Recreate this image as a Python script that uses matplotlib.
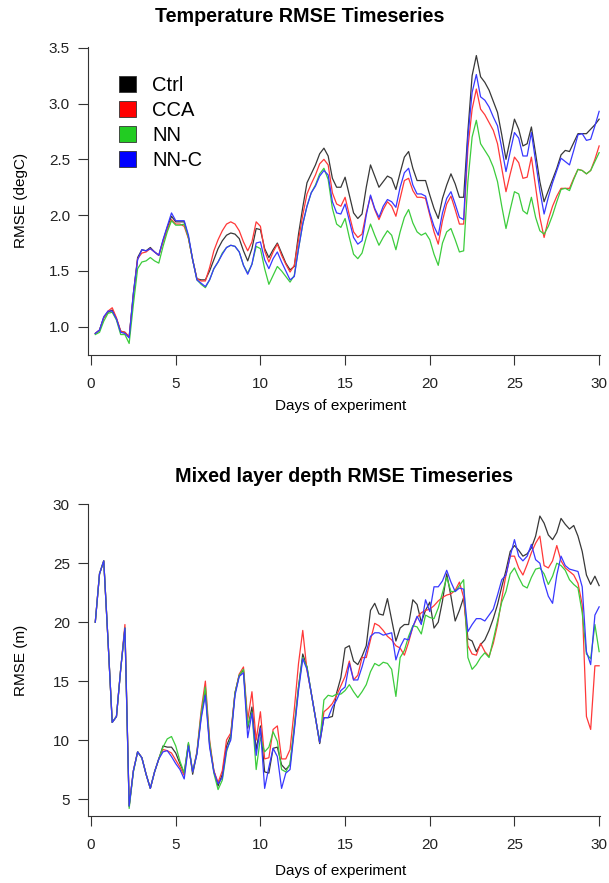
import numpy as np
import matplotlib
matplotlib.use('Agg')
from matplotlib import pyplot as plt
from matplotlib.patches import Patch

plt.rcParams['font.family'] = ['Liberation Sans', 'DejaVu Sans']

# 6-hourly sampling, days 0.25 .. 30
days = np.arange(1, 121) * 0.25

series_names = ['Ctrl', 'CCA', 'NN', 'NN-C']
series_colors = ['#383838', '#ff3838', '#3ccc3c', '#3838ff']

temp_ctrl = [0.94, 0.97, 1.08, 1.13, 1.15, 1.07, 0.96, 0.95,
             0.91, 1.30, 1.62, 1.69, 1.68, 1.71, 1.67, 1.64,
             1.77, 1.89, 1.99, 1.94, 1.94, 1.94, 1.80, 1.60,
             1.43, 1.42, 1.42, 1.50, 1.60, 1.70, 1.77, 1.82,
             1.84, 1.83, 1.79, 1.68, 1.59, 1.70, 1.88, 1.87,
             1.70, 1.62, 1.69, 1.75, 1.66, 1.57, 1.51, 1.54,
             1.83, 2.07, 2.29, 2.37, 2.45, 2.55, 2.60, 2.53,
             2.33, 2.25, 2.25, 2.34, 2.18, 2.02, 1.97, 2.01,
             2.25, 2.45, 2.35, 2.25, 2.30, 2.35, 2.33, 2.23,
             2.38, 2.52, 2.57, 2.42, 2.31, 2.31, 2.31, 2.18,
             2.06, 1.97, 2.15, 2.27, 2.37, 2.28, 2.16, 2.16,
             2.75, 3.25, 3.43, 3.24, 3.19, 3.12, 3.02, 2.92,
             2.72, 2.50, 2.68, 2.86, 2.77, 2.62, 2.64, 2.79,
             2.55, 2.30, 2.12, 2.22, 2.32, 2.42, 2.54, 2.58,
             2.57, 2.65, 2.73, 2.73, 2.73, 2.77, 2.81, 2.86]

temp_cca = [0.94, 0.97, 1.08, 1.14, 1.17, 1.08, 0.96, 0.95,
            0.91, 1.28, 1.61, 1.66, 1.67, 1.70, 1.67, 1.64,
            1.76, 1.87, 1.96, 1.92, 1.92, 1.90, 1.79, 1.60,
            1.43, 1.41, 1.41, 1.53, 1.68, 1.78, 1.86, 1.92,
            1.94, 1.92, 1.86, 1.76, 1.68, 1.76, 1.94, 1.90,
            1.68, 1.58, 1.67, 1.74, 1.64, 1.56, 1.49, 1.55,
            1.78, 2.00, 2.19, 2.28, 2.36, 2.46, 2.50, 2.45,
            2.20, 2.10, 2.08, 2.16, 2.00, 1.85, 1.80, 1.83,
            2.02, 2.17, 2.05, 1.96, 2.05, 2.12, 2.08, 1.99,
            2.15, 2.31, 2.33, 2.22, 2.16, 2.16, 2.15, 2.00,
            1.85, 1.74, 1.95, 2.10, 2.17, 2.05, 1.92, 1.92,
            2.60, 2.95, 3.13, 2.95, 2.90, 2.83, 2.76, 2.64,
            2.42, 2.21, 2.37, 2.52, 2.47, 2.33, 2.34, 2.52,
            2.25, 1.98, 1.80, 1.96, 2.08, 2.17, 2.24, 2.24,
            2.24, 2.33, 2.41, 2.40, 2.37, 2.40, 2.50, 2.62]

temp_nn = [0.93, 0.95, 1.05, 1.12, 1.13, 1.06, 0.93, 0.93,
           0.85, 1.20, 1.52, 1.58, 1.59, 1.62, 1.59, 1.57,
           1.72, 1.85, 1.95, 1.91, 1.91, 1.92, 1.80, 1.60,
           1.42, 1.38, 1.35, 1.42, 1.52, 1.58, 1.66, 1.71,
           1.73, 1.72, 1.67, 1.55, 1.48, 1.56, 1.72, 1.70,
           1.52, 1.38, 1.46, 1.54, 1.50, 1.45, 1.40, 1.46,
           1.70, 1.92, 2.08, 2.20, 2.27, 2.37, 2.42, 2.32,
           2.06, 1.92, 1.89, 1.97, 1.80, 1.65, 1.61, 1.66,
           1.80, 1.92, 1.82, 1.73, 1.80, 1.86, 1.82, 1.69,
           1.85, 1.98, 2.05, 1.93, 1.85, 1.82, 1.84, 1.78,
           1.65, 1.55, 1.75, 1.85, 1.88, 1.78, 1.67, 1.68,
           2.30, 2.70, 2.85, 2.64, 2.58, 2.52, 2.43, 2.30,
           2.08, 1.88, 2.05, 2.21, 2.19, 2.04, 2.01, 2.16,
           1.98, 1.86, 1.83, 1.90, 2.00, 2.12, 2.23, 2.24,
           2.22, 2.32, 2.41, 2.40, 2.37, 2.40, 2.48, 2.56]

temp_nnc = [0.94, 0.97, 1.09, 1.14, 1.14, 1.07, 0.95, 0.94,
            0.90, 1.30, 1.60, 1.69, 1.68, 1.70, 1.67, 1.64,
            1.78, 1.90, 2.02, 1.95, 1.95, 1.95, 1.82, 1.60,
            1.42, 1.39, 1.36, 1.42, 1.52, 1.58, 1.65, 1.71,
            1.73, 1.72, 1.67, 1.55, 1.47, 1.56, 1.75, 1.76,
            1.60, 1.52, 1.61, 1.67, 1.58, 1.50, 1.42, 1.45,
            1.70, 1.92, 2.08, 2.20, 2.26, 2.35, 2.40, 2.36,
            2.12, 2.02, 2.01, 2.10, 1.95, 1.80, 1.74, 1.77,
            2.00, 2.18, 2.06, 1.98, 2.08, 2.14, 2.12, 2.07,
            2.25, 2.38, 2.42, 2.27, 2.19, 2.19, 2.17, 2.02,
            1.90, 1.82, 2.02, 2.15, 2.21, 2.10, 1.98, 1.96,
            2.70, 3.10, 3.26, 3.06, 3.03, 2.97, 2.88, 2.80,
            2.60, 2.39, 2.57, 2.74, 2.69, 2.53, 2.53, 2.74,
            2.48, 2.22, 2.01, 2.16, 2.29, 2.40, 2.51, 2.48,
            2.45, 2.58, 2.72, 2.73, 2.67, 2.68, 2.80, 2.93]

mld_ctrl = [20.0, 24.1, 25.2, 18.5, 11.5, 12.0, 16.0, 19.5,
            4.4, 7.4, 9.0, 8.5, 7.1, 5.9, 7.3, 8.4,
            9.5, 9.4, 9.4, 8.9, 8.0, 7.2, 9.7, 7.1,
            8.9, 12.0, 14.2, 9.6, 7.4, 6.1, 7.1, 9.5,
            10.4, 14.0, 15.5, 15.9, 11.0, 12.8, 9.2, 11.2,
            7.3, 7.2, 9.3, 9.4, 7.9, 7.5, 7.9, 11.0,
            14.5, 17.3, 16.2, 14.0, 11.9, 9.7, 11.9, 11.9,
            12.0, 14.0, 15.3, 17.8, 18.0, 16.7, 16.4, 17.1,
            18.0, 21.0, 21.6, 20.7, 20.6, 22.0, 20.2, 18.4,
            19.5, 19.8, 19.8, 21.9, 21.5, 20.0, 21.0, 21.7,
            19.5, 20.0, 21.8, 24.1, 22.2, 20.1, 21.0, 22.1,
            18.6, 18.4, 17.5, 18.1, 18.5, 19.3, 20.3, 21.5,
            23.0, 24.4, 26.0, 26.5, 26.1, 25.6, 25.8, 26.3,
            27.3, 29.0, 28.4, 27.4, 27.0, 27.6, 28.8, 28.3,
            27.9, 28.2, 27.3, 26.0, 24.0, 23.2, 23.9, 23.1]

mld_cca = [20.0, 24.1, 25.2, 18.5, 11.5, 12.0, 16.0, 19.8,
           4.4, 7.4, 9.0, 8.5, 7.1, 5.9, 7.3, 8.4,
           9.2, 9.1, 8.9, 8.3, 7.7, 7.0, 9.6, 7.3,
           9.0, 12.5, 15.0, 10.0, 7.4, 6.4, 7.4, 10.0,
           10.6, 14.0, 15.6, 16.2, 11.7, 14.1, 10.0, 12.4,
           8.4, 8.5, 10.9, 11.2, 8.4, 8.4, 9.2, 12.6,
           16.5, 19.3, 15.9, 14.0, 11.9, 9.8, 12.4, 12.7,
           13.1, 13.8, 14.6, 15.4, 16.7, 15.1, 15.5, 17.0,
           17.0, 18.5, 19.9, 19.7, 19.3, 18.8, 18.5, 18.0,
           17.8, 17.2, 18.3, 19.6, 20.4, 20.8, 21.0, 21.1,
           21.4, 21.8, 22.1, 22.3, 22.4, 22.7, 23.4, 22.1,
           18.0, 17.3, 17.2, 18.2, 17.5, 17.1, 18.2, 19.8,
           22.0, 24.0, 25.6, 25.6, 24.6, 24.0, 24.9, 25.9,
           26.7, 27.3, 24.8, 24.6, 25.2, 26.5, 25.2, 24.6,
           24.3, 24.0, 23.3, 21.5, 12.0, 10.9, 16.3, 16.3]

mld_nn = [20.0, 24.1, 25.2, 18.5, 11.5, 12.0, 16.0, 19.5,
          4.2, 7.3, 9.0, 8.5, 7.1, 5.9, 7.3, 8.4,
          9.4, 10.1, 10.3, 9.5, 8.2, 7.2, 9.8, 7.3,
          8.9, 12.2, 14.5, 9.8, 7.2, 5.8, 6.6, 9.0,
          10.2, 14.0, 15.5, 16.0, 11.2, 12.4, 7.5, 10.2,
          9.0, 9.4, 10.7, 9.9, 7.5, 7.3, 8.0, 11.2,
          14.5, 17.0, 16.2, 14.0, 11.9, 9.8, 13.4, 13.8,
          13.7, 13.9, 13.9, 14.2, 14.7, 14.1, 13.6, 14.1,
          14.7, 15.8, 16.5, 16.3, 16.6, 16.5, 16.0, 13.7,
          17.0, 17.6, 18.8, 19.7, 19.6, 19.0, 20.6, 20.4,
          20.3, 21.2, 22.5, 23.8, 22.6, 22.6, 23.1, 23.6,
          17.0, 16.0, 16.4, 17.0, 17.4, 17.0, 18.5, 20.1,
          21.7, 22.6, 24.1, 24.6, 23.8, 23.1, 22.9, 23.8,
          24.5, 24.6, 24.1, 23.2, 23.9, 25.0, 24.8, 24.4,
          23.6, 23.2, 22.9, 20.8, 17.3, 16.9, 19.8, 17.5]

mld_nnc = [20.0, 24.1, 25.2, 18.5, 11.5, 12.0, 16.0, 19.5,
           4.4, 7.4, 9.0, 8.5, 7.1, 5.9, 7.3, 8.4,
           9.0, 9.1, 8.6, 8.0, 7.5, 6.7, 9.5, 7.3,
           8.8, 11.8, 13.8, 9.4, 7.3, 6.3, 6.8, 9.2,
           10.0, 13.8, 15.4, 15.7, 10.2, 12.3, 8.7, 11.0,
           5.9, 7.7, 9.3, 8.6, 5.9, 7.2, 7.5, 10.8,
           14.2, 16.9, 16.0, 14.0, 11.9, 9.8, 11.9, 11.9,
           12.8, 13.4, 14.2, 14.5, 16.5, 15.1, 15.1, 16.2,
           17.5, 18.8, 19.1, 19.1, 18.9, 19.0, 19.1, 16.8,
           17.9, 18.6, 18.5, 19.6, 20.5, 19.8, 21.9, 20.9,
           23.0, 23.0, 23.5, 24.4, 23.4, 22.6, 22.9, 22.8,
           19.2, 19.8, 20.3, 20.3, 20.1, 20.6, 21.1, 22.3,
           23.6, 24.0, 25.6, 27.0, 25.6, 25.2, 25.6, 26.6,
           25.3, 25.0, 23.4, 22.2, 21.6, 24.0, 25.6, 24.8,
           24.5, 24.4, 24.3, 23.0, 17.5, 16.4, 20.6, 21.3]


def style_axes(ax, ylim, yticks):
    ax.set_xlim(-0.18, 30.05)
    ax.set_ylim(*ylim)
    ax.set_xticks([0, 5, 10, 15, 20, 25, 30])
    ax.set_yticks(yticks)
    ax.spines['top'].set_visible(False)
    ax.spines['right'].set_visible(False)
    for s in ['left', 'bottom']:
        ax.spines[s].set_linewidth(0.8)
        ax.spines[s].set_color('#333333')
    ax.tick_params(axis='both', length=7, width=0.8, color='#333333',
                   labelsize=11, labelcolor='#222222')
    ax.tick_params(axis='x', pad=9)
    ax.tick_params(axis='y', pad=6)


fig = plt.figure(figsize=(6.09, 8.83), dpi=100)

ax1 = fig.add_axes([0.1445, 0.598, 0.8407, 0.3492])
for vals, c in zip([temp_ctrl, temp_cca, temp_nn, temp_nnc], series_colors):
    ax1.plot(days, vals, color=c, lw=0.9)
style_axes(ax1, (0.747, 3.51), [1.0, 1.5, 2.0, 2.5, 3.0, 3.5])
ax1.set_yticklabels(['1.0', '1.5', '2.0', '2.5', '3.0', '3.5'])
ax1.set_ylabel('RMSE (degC)', fontsize=11)
ax1.yaxis.set_label_coords(-0.117, 0.5)
ax1.set_xlabel('Days of experiment', fontsize=11)
ax1.xaxis.set_label_coords(0.494, -0.143)
handles = [Patch(facecolor=c, edgecolor='#333333', linewidth=0.6) for c in
           ['black', 'red', '#22cc22', 'blue']]
ax1.legend(handles, series_names, loc='upper left', bbox_to_anchor=(0.045, 0.93),
           frameon=False, fontsize=14.5, handlelength=0.85, handleheight=0.85,
           handletextpad=0.8, labelspacing=0.3, borderaxespad=0)

ax2 = fig.add_axes([0.1445, 0.0759, 0.8407, 0.353])
for vals, c in zip([mld_ctrl, mld_cca, mld_nn, mld_nnc], series_colors):
    ax2.plot(days, vals, color=c, lw=0.9)
style_axes(ax2, (3.56, 30.0), [5, 10, 15, 20, 25, 30])
ax2.set_ylabel('RMSE (m)', fontsize=11)
ax2.yaxis.set_label_coords(-0.117, 0.5)
ax2.set_xlabel('Days of experiment', fontsize=11)
ax2.xaxis.set_label_coords(0.494, -0.154)

fig.text(300 / 609, 1 - 17 / 883, 'Temperature RMSE Timeseries', ha='center', va='center',
         fontsize=14.2, fontweight='bold')
fig.text(344 / 609, 1 - 477 / 883, 'Mixed layer depth RMSE Timeseries', ha='center',
         va='center', fontsize=14.2, fontweight='bold')

fig.savefig('out.png', dpi=100)
